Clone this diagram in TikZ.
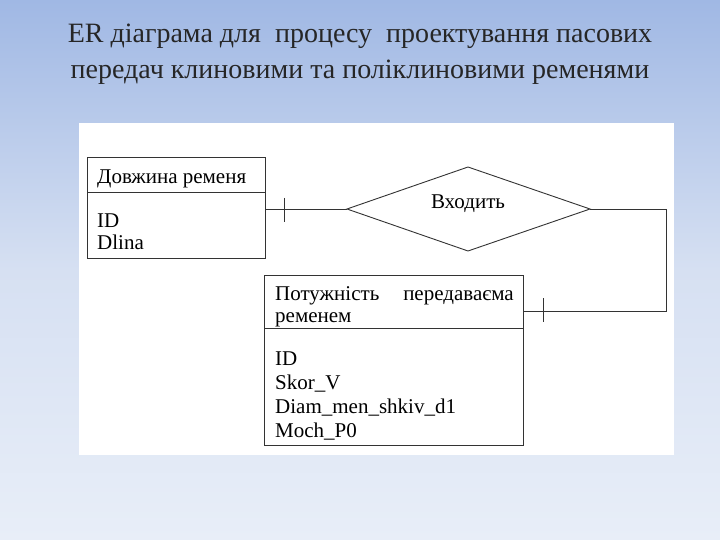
\documentclass[tikz,border=0pt]{standalone}
\usepackage{fontspec}
\setmainfont{Liberation Serif}
\begin{document}
\begin{tikzpicture}[x=1pt,y=-1pt,
  ln/.style={draw=black!80,line width=0.9pt},
  txt/.style={anchor=base west,inner sep=0pt,font=\fontsize{21}{23}\selectfont},
  ttl/.style={inner sep=0pt,font=\fontsize{28}{30}\selectfont,text=black!85}]
\shade[top color={rgb,255:red,160;green,184;blue,228},bottom color={rgb,255:red,232;green,238;blue,248},middle color={rgb,255:red,214;green,224;blue,242}] (0,0) rectangle (720,540);
\useasboundingbox (0,0) rectangle (720,540);
\fill[white] (79,123) rectangle (674,455);
\node[ttl] (t1) at (360,36) {ER діаграма для\ \ процесу\ \ проектування пасових};
\node[ttl] (t2) at (360,72) {передач клиновими та поліклиновими ременями};
% entity 1
\draw[ln] (87,157) rectangle (265,258);
\draw[ln] (87,192) -- (265,192);
\node[txt] (e1h) at (97,184) {Довжина ременя};
\node[txt] (e1a) at (97,227) {ID};
\node[txt] (e1b) at (97,249) {Dlina};
\coordinate (e1r) at (265,209);
% diamond
\draw[ln] (347,209) coordinate (dl) -- (468,167) -- (590,209) coordinate (dr) -- (468,251) -- cycle;
\node[inner sep=0pt,anchor=base,font=\fontsize{21}{23}\selectfont] (d) at (468,208) {Входить};
% entity 2
\draw[ln] (264,275) rectangle (523,445);
\draw[ln] (264,328) -- (523,328);
\node[txt] (e2h1) at (275,300) {Потужність};
\node[txt,anchor=base east] (e2h2) at (514,300) {передаваєма};
\node[txt] (e2h3) at (275,322) {ременем};
\node[txt] (e2a) at (275,365) {ID};
\node[txt] (e2b) at (275,389) {Skor\_V};
\node[txt] (e2c) at (275,413) {Diam\_men\_shkiv\_d1};
\node[txt] (e2d) at (275,437) {Moch\_P0};
\coordinate (e2r) at (523,311);
% connectors
\draw[ln] (e1r) -- (dl);
\draw[ln] (284,198) -- (284,222);
\draw[ln] (dr) -- (666,209) -- (666,311) -- (e2r);
\draw[ln] (543,298) -- (543,322);
\end{tikzpicture}
\end{document}
